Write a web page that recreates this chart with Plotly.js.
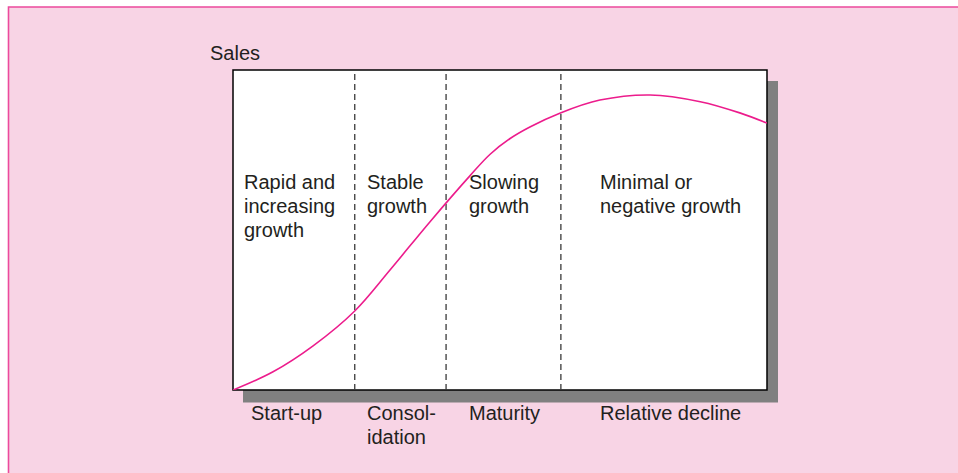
<!DOCTYPE html>
<html>
<head>
<meta charset="utf-8">
<script src="https://cdn.plot.ly/plotly-3.0.1.min.js"></script>
<style>
  html, body { margin: 0; padding: 0; background: #fff; }
  #chart { width: 958px; height: 473px; }
</style>
</head>
<body>
<div id="chart"></div>
<script>
/* Sales curve over the life cycle (time and sales on a 0-100 scale) */
var timeVals  = [0, 7.5, 15.0, 22.8, 29.4, 36.9, 44.4, 48.1, 51.9, 55.6, 61.2, 68.7, 78.1, 87.5, 94.9, 100];
var salesVals = [0, 5.7, 13.8, 24.7, 37.5, 52.6, 67.0, 73.6, 78.6, 82.2, 86.5, 90.6, 92.2, 90.1, 86.6, 83.4];

/* stage boundaries (same time scale) */
var stageBounds = [22.8, 39.9, 61.4];

/* stage names under the axis, and growth descriptions inside the box (one entry per line) */
var stageNames  = [['Start-up'], ['Consol-', 'idation'], ['Maturity'], ['Relative decline']];
var growthNotes = [['Rapid and', 'increasing', 'growth'], ['Stable', 'growth'], ['Slowing', 'growth'], ['Minimal or', 'negative growth']];
var yTitle = 'Sales';

var PINK_BG = '#f8d4e5', PINK_LINE = '#ec4a9c', CURVE = '#ec1c8c', INK = '#231f20';
var FONT = '"Liberation Sans", Arial, Helvetica, sans-serif';
var FS = 20, LINE_H = 24;

// plot box in pixels: 233..767 x 70..390
function px(x) { return (x - 233) / 534; }
function py(y) { return (390 - y) / 320; }

var shapes = [
  // pink page with border on top and left
  { type: 'rect', xref: 'paper', yref: 'paper', x0: px(8.5), x1: px(990), y0: py(7), y1: py(500),
    fillcolor: PINK_BG, line: { color: PINK_LINE, width: 1.6 }, layer: 'below' },
  // drop shadow
  { type: 'rect', xref: 'paper', yref: 'paper', x0: px(243), x1: px(778), y0: py(81), y1: py(402.5),
    fillcolor: '#808080', line: { width: 0 }, layer: 'below' },
  // white box
  { type: 'rect', xref: 'paper', yref: 'paper', x0: 0, x1: 1, y0: 0, y1: 1,
    fillcolor: '#ffffff', line: { color: '#000', width: 1.5 }, layer: 'below' }
];
stageBounds.forEach(function (b) {
  shapes.push({ type: 'line', xref: 'x', yref: 'paper', x0: b, x1: b, y0: 0, y1: 1,
    line: { color: '#3a3a3a', width: 1.3, dash: '6px,4px' }, layer: 'below' });
});

function label(t, xPx, yPx) {
  return { xref: 'paper', yref: 'paper', x: px(xPx), y: py(yPx), xanchor: 'left', yanchor: 'middle',
    text: t, showarrow: false, align: 'left', borderpad: 0, font: { family: FONT, size: FS, color: INK } };
}

var noteX = [243, 366, 468, 599];
var annotations = [label(yTitle, 209, 53)];
growthNotes.forEach(function (lines, i) {
  lines.forEach(function (t, j) { annotations.push(label(t, noteX[i], 182 + j * LINE_H)); });
});
stageNames.forEach(function (lines, i) {
  lines.forEach(function (t, j) { annotations.push(label(t, noteX[i] + (i === 0 ? 7 : 0), 413 + j * LINE_H)); });
});

var trace = {
  x: timeVals, y: salesVals, mode: 'lines',
  line: { color: CURVE, width: 1.6, shape: 'spline', smoothing: 1 },
  hoverinfo: 'skip'
};

Plotly.newPlot('chart', [trace], {
  width: 958, height: 473,
  margin: { l: 233, r: 191, t: 70, b: 83, pad: 0 },
  paper_bgcolor: '#ffffff',
  plot_bgcolor: 'rgba(0,0,0,0)',
  showlegend: false,
  xaxis: { range: [0, 100], showgrid: false, zeroline: false, showticklabels: false, ticks: '', showline: false, fixedrange: true },
  yaxis: { range: [0, 100], showgrid: false, zeroline: false, showticklabels: false, ticks: '', showline: false, fixedrange: true },
  shapes: shapes,
  annotations: annotations,
  font: { family: FONT, color: INK }
}, { displayModeBar: false, staticPlot: true });
</script>
</body>
</html>
